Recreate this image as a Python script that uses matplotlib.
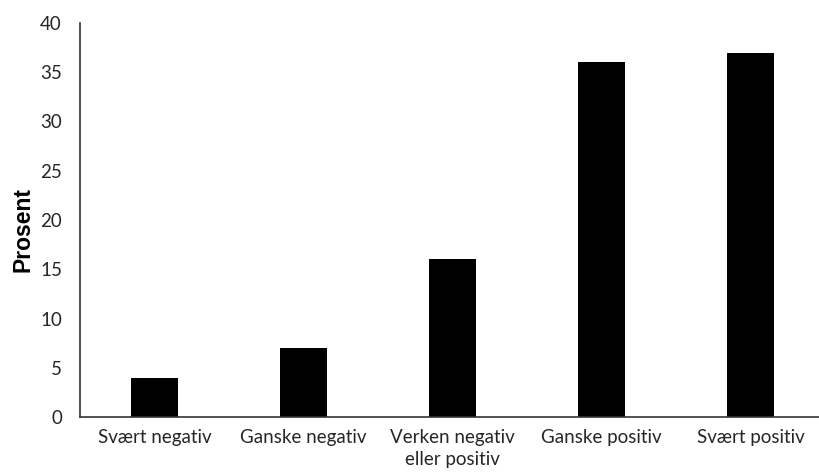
import matplotlib
matplotlib.use("Agg")
import matplotlib.pyplot as plt

categories = ["Svært negativ", "Ganske negativ", "Verken negativ\neller positiv",
              "Ganske positiv", "Svært positiv"]
values = [4, 7, 16, 36, 37]
yticks = [0, 5, 10, 15, 20, 25, 30, 35, 40]

W, H = 819, 474
fig = plt.figure(figsize=(W / 100, H / 100), dpi=100)
ax = fig.add_axes([80 / W, 57 / H, 739 / W, 394 / H])

x = range(len(categories))
ax.bar(x, values, width=0.31, color="black")
ax.set_xlim(-0.5, 4.46)
ax.set_ylim(0, 40)
ax.set_yticks(yticks)
ax.set_xticks(list(x))
ax.set_xticklabels(categories, fontsize=13.5, family=["Lato", "DejaVu Sans"],
                   color="#262626", linespacing=1.33)
ax.set_yticklabels([str(t) for t in yticks], fontsize=13.5,
                   family=["Lato", "DejaVu Sans"], color="#262626")
ax.tick_params(axis="both", length=0)
ax.tick_params(axis="y", pad=13)
ax.tick_params(axis="x", pad=9)
for s in ["top", "right"]:
    ax.spines[s].set_visible(False)
for s in ["left", "bottom"]:
    ax.spines[s].set_color("#333333")
    ax.spines[s].set_linewidth(1.2)
ax.set_ylabel("Prosent", fontsize=16.5, fontweight="bold",
              family=["Liberation Sans", "DejaVu Sans"], color="black")
ax.yaxis.set_label_coords(-0.061, 0.475)

fig.savefig("out.png", dpi=100)
